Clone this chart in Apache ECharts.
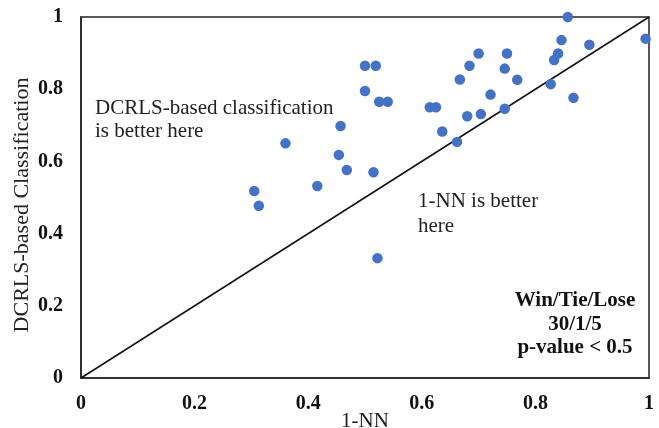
<!DOCTYPE html>
<html>
<head>
<meta charset="utf-8">
<script src="https://cdn.jsdelivr.net/npm/echarts@6/dist/echarts.min.js"></script>
<style>
  html, body { margin: 0; padding: 0; background: #fff; }
  #main { width: 659px; height: 428px; }
</style>
</head>
<body>
<div id="main"></div>
<script>
// 1-NN accuracy (x) vs DCRLS-based classification accuracy (y), one point per dataset
var nnAcc = [0.500, 0.519, 0.500, 0.525, 0.540, 0.614, 0.625, 0.457, 0.360, 0.636,
             0.454, 0.468, 0.515, 0.416, 0.305, 0.313, 0.522, 0.857, 0.994, 0.846,
             0.895, 0.700, 0.750, 0.840, 0.833, 0.684, 0.746, 0.667, 0.768, 0.721,
             0.867, 0.827, 0.680, 0.704, 0.746, 0.662]
var dcrlsAcc = [0.865, 0.865, 0.795, 0.765, 0.765, 0.750, 0.750, 0.698, 0.650, 0.683,
                0.618, 0.576, 0.570, 0.532, 0.518, 0.477, 0.332, 1.000, 0.940, 0.936,
                0.923, 0.899, 0.899, 0.899, 0.881, 0.865, 0.857, 0.827, 0.826, 0.785,
                0.776, 0.814, 0.725, 0.731, 0.746, 0.654]
// the y = x reference line
var diagX = [0, 1]
var diagY = [0, 1]
var tickVals = [0, 0.2, 0.4, 0.6, 0.8, 1]

var points = nnAcc.map(function(v, i) { return [v, dcrlsAcc[i]] })
var diag = diagX.map(function(v, i) { return [v, diagY[i]] })

var serif = '"Liberation Serif", "Times New Roman", serif'

function tickFmt(v) {
    var hit = tickVals.filter(function(t) { return Math.abs(t - v) < 1e-9 })
    return hit.length ? String(hit[0]) : ''
}

var chart = echarts.init(document.getElementById('main'))
chart.setOption({
    animation: false,
    backgroundColor: '#fff',
    grid: {
        left: 81, right: 10, top: 17, bottom: 50,
        outerBoundsMode: 'none',
        show: true, borderColor: '#222', borderWidth: 1.5
    },
    xAxis: {
        type: 'value', min: 0, max: 1, interval: 0.2,
        name: '1-NN', nameLocation: 'middle', nameGap: 33, nameMoveOverlap: false,
        nameTextStyle: { fontFamily: serif, fontSize: 21, color: '#222' },
        axisLine: { show: true, lineStyle: { color: '#222', width: 1.5 } },
        axisTick: { show: false },
        splitLine: { show: false },
        axisLabel: { margin: 16, formatter: tickFmt, fontFamily: serif, fontWeight: 'bold', fontSize: 20, color: '#111' }
    },
    yAxis: {
        type: 'value', min: 0, max: 1, interval: 0.2,
        name: 'DCRLS-based Classification', nameLocation: 'middle', nameGap: 48, nameMoveOverlap: false,
        nameTextStyle: { fontFamily: serif, fontSize: 22, color: '#222', padding: [0, 15, 0, 0] },
        axisLine: { show: true, lineStyle: { color: '#222', width: 1.5 } },
        axisTick: { show: false },
        splitLine: { show: false },
        axisLabel: { margin: 18, formatter: tickFmt, fontFamily: serif, fontWeight: 'bold', fontSize: 20, color: '#111' }
    },
    series: [{
        type: 'line',
        data: diag,
        symbol: 'none',
        lineStyle: { color: '#111', width: 1.5 },
        z: 1
    }, {
        type: 'scatter',
        data: points,
        symbolSize: 10.5,
        itemStyle: { color: '#4472C4', opacity: 1 },
        z: 3
    }],
    graphic: [{
        type: 'text', left: 95, top: 97,
        style: { text: 'DCRLS-based classification\nis better here', font: '21px ' + serif, fill: '#222', lineHeight: 23 }
    }, {
        type: 'text', left: 418, top: 189,
        style: { text: '1-NN is better\nhere', font: '21px ' + serif, fill: '#222', lineHeight: 25 }
    }, {
        type: 'text', x: 575, y: 289,
        style: { text: 'Win/Tie/Lose\n30/1/5\np-value < 0.5', font: 'bold 21px ' + serif, fill: '#111',
                 align: 'center', verticalAlign: 'top', lineHeight: 23.5 }
    }]
})
</script>
</body>
</html>
